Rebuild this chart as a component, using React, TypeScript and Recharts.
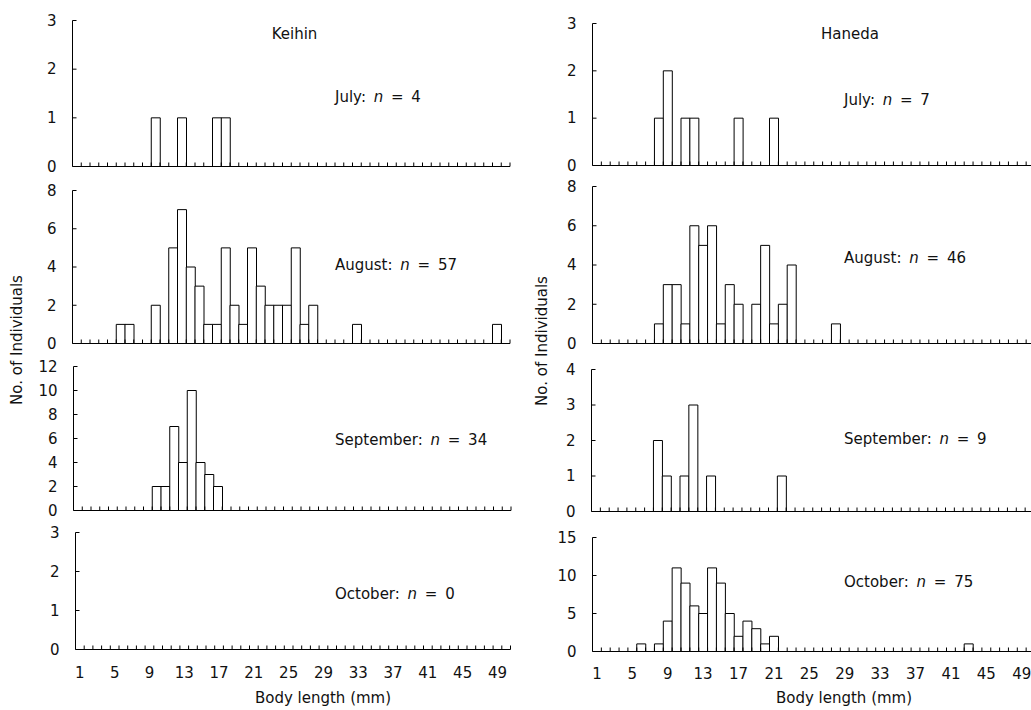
import React from 'react';
import { BarChart, Bar, XAxis, YAxis } from 'recharts';

// ---------- data ----------
const LENGTHS = [
  1, 2, 3, 4, 5, 6, 7, 8, 9, 10, 11, 12, 13, 14, 15, 16, 17, 18, 19, 20, 21, 22, 23, 24, 25,
  26, 27, 28, 29, 30, 31, 32, 33, 34, 35, 36, 37, 38, 39, 40, 41, 42, 43, 44, 45, 46, 47, 48, 49, 50,
];
const LABEL_TICKS = [1, 5, 9, 13, 17, 21, 25, 29, 33, 37, 41, 45, 49];

// [body length (mm), number of individuals]
const KEIHIN_JUL = [[10, 1], [13, 1], [17, 1], [18, 1]];
const KEIHIN_AUG = [
  [6, 1], [7, 1], [10, 2], [12, 5], [13, 7], [14, 4], [15, 3], [16, 1], [17, 1], [18, 5], [19, 2],
  [20, 1], [21, 5], [22, 3], [23, 2], [24, 2], [25, 2], [26, 5], [27, 1], [28, 2], [33, 1], [49, 1],
];
const KEIHIN_SEP = [[10, 2], [11, 2], [12, 7], [13, 4], [14, 10], [15, 4], [16, 3], [17, 2]];
const KEIHIN_OCT: number[][] = [];

const HANEDA_JUL = [[8, 1], [9, 2], [11, 1], [12, 1], [17, 1], [21, 1]];
const HANEDA_AUG = [
  [8, 1], [9, 3], [10, 3], [11, 1], [12, 6], [13, 5], [14, 6], [15, 1], [16, 3], [17, 2],
  [19, 2], [20, 5], [21, 1], [22, 2], [23, 4], [28, 1],
];
const HANEDA_SEP = [[8, 2], [9, 1], [11, 1], [12, 3], [14, 1], [22, 1]];
const HANEDA_OCT = [
  [6, 1], [8, 1], [9, 4], [10, 11], [11, 9], [12, 6], [13, 5], [14, 11], [15, 9], [16, 5],
  [17, 2], [18, 4], [19, 3], [20, 1], [21, 2], [43, 1],
];

const Y_TICKS_3 = [0, 1, 2, 3];
const Y_TICKS_8 = [0, 2, 4, 6, 8];
const Y_TICKS_12 = [0, 2, 4, 6, 8, 10, 12];
const Y_TICKS_4 = [0, 1, 2, 3, 4];
const Y_TICKS_15 = [0, 5, 10, 15];

const MONTHS = ['July', 'August', 'September', 'October'];
const KEIHIN_N = [4, 57, 34, 0];
const HANEDA_N = [7, 46, 9, 75];

// ---------- layout ----------
const FONT = '"DejaVu Sans", Verdana, sans-serif';
const FS = 15;
const PAD = 12;
const RIGHT = 12;
const BOTTOM_PAD = 12;
const TICK_LEN = 4;
const Y_LABEL_GAP = 16;

type PanelProps = {
  counts: number[][];
  yTicks: number[];
  colX: number;
  plotLeft: number;
  plotWidth: number;
  plotTop: number;
  plotBottom: number;
  showLabels: boolean;
  labelMargin: number;
};

function Panel(p: PanelProps) {
  const lookup = new Map<number, number>(p.counts.map((c) => [c[0], c[1]] as [number, number]));
  const data = LENGTHS.map((len) => ({ len, count: lookup.get(len) ?? 0 }));
  const yMax = p.yTicks[p.yTicks.length - 1];
  const divTop = Math.floor(p.plotTop) - PAD;
  const marginTop = p.plotTop - divTop;
  const plotH = p.plotBottom - p.plotTop;
  const xh = p.showLabels ? 34 : 2;
  const bottomPad = p.showLabels ? 0 : BOTTOM_PAD;
  const yw = p.plotLeft - p.colX;
  const W = yw + p.plotWidth + RIGHT;
  const H = marginTop + plotH + xh + bottomPad;
  const band = p.plotWidth / LENGTHS.length;
  const axisY = marginTop + plotH;

  const renderXTick = (props: any) => {
    const { x, payload } = props;
    const edgeX = x + band / 2;
    const showText = p.showLabels && LABEL_TICKS.indexOf(payload.value) >= 0;
    return (
      <g>
        <line x1={edgeX} x2={edgeX} y1={axisY} y2={axisY - TICK_LEN} stroke="#000" strokeWidth={1} />
        {showText && (
          <text
            x={x}
            y={axisY + p.labelMargin}
            dy="0.71em"
            textAnchor="middle"
            fontSize={FS}
            fontFamily={FONT}
            fill="#111"
          >
            {payload.value}
          </text>
        )}
      </g>
    );
  };

  const renderYTick = (props: any) => {
    const { y, payload } = props;
    return (
      <g>
        <text
          x={yw - Y_LABEL_GAP}
          y={y}
          dy="0.355em"
          textAnchor="end"
          fontSize={FS}
          fontFamily={FONT}
          fill="#111"
        >
          {payload.value}
        </text>
        <line x1={yw} x2={yw + TICK_LEN} y1={y} y2={y} stroke="#000" strokeWidth={1} />
      </g>
    );
  };

  return (
    <div style={{ position: 'absolute', left: p.colX, top: divTop }}>
      <BarChart
        width={W}
        height={H}
        data={data}
        margin={{ top: marginTop, right: RIGHT, bottom: bottomPad, left: 0 }}
        barCategoryGap={0}
        barGap={0}
      >
        <XAxis
          dataKey="len"
          type="category"
          interval={0}
          height={xh}
          axisLine={{ stroke: '#000', strokeWidth: 1 }}
          tickLine={false}
          tickSize={0}
          tickMargin={0}
          tick={renderXTick}
        />
        <YAxis
          type="number"
          domain={[0, yMax]}
          ticks={p.yTicks}
          interval={0}
          width={yw}
          axisLine={{ stroke: '#000', strokeWidth: 1 }}
          tickLine={false}
          tickSize={0}
          tickMargin={Y_LABEL_GAP}
          tick={renderYTick}
        />
        <Bar dataKey="count" fill="#ffffff" stroke="#000" strokeWidth={1} isAnimationActive={false} />
      </BarChart>
    </div>
  );
}

const LEFT_ROWS = [
  { counts: KEIHIN_JUL, yTicks: Y_TICKS_3, plotLeft: 72.5, plotWidth: 437.5, plotTop: 20.5, plotBottom: 166.5, labelY: 97 },
  { counts: KEIHIN_AUG, yTicks: Y_TICKS_8, plotLeft: 72.5, plotWidth: 437.5, plotTop: 190.5, plotBottom: 343.5, labelY: 265 },
  { counts: KEIHIN_SEP, yTicks: Y_TICKS_12, plotLeft: 73.5, plotWidth: 437.5, plotTop: 366.5, plotBottom: 510.5, labelY: 440 },
  { counts: KEIHIN_OCT, yTicks: Y_TICKS_3, plotLeft: 75.5, plotWidth: 435, plotTop: 532.5, plotBottom: 649.5, labelY: 594 },
];
const RIGHT_ROWS = [
  { counts: HANEDA_JUL, yTicks: Y_TICKS_3, plotLeft: 592.5, plotWidth: 442.5, plotTop: 23.5, plotBottom: 165.5, labelY: 100 },
  { counts: HANEDA_AUG, yTicks: Y_TICKS_8, plotLeft: 592.5, plotWidth: 442.5, plotTop: 186.5, plotBottom: 343.5, labelY: 258 },
  { counts: HANEDA_SEP, yTicks: Y_TICKS_4, plotLeft: 591.5, plotWidth: 442.5, plotTop: 369.5, plotBottom: 511.5, labelY: 439 },
  { counts: HANEDA_OCT, yTicks: Y_TICKS_15, plotLeft: 592.5, plotWidth: 442.5, plotTop: 537.5, plotBottom: 651.5, labelY: 582 },
];

const textBase: React.CSSProperties = {
  position: 'absolute',
  fontFamily: FONT,
  fontSize: FS,
  color: '#111',
  whiteSpace: 'nowrap',
  lineHeight: 1,
};

function MonthLabel({ x, y, month, n }: { x: number; y: number; month: string; n: number }) {
  return (
    <div style={{ ...textBase, left: x, top: y, transform: 'translateY(-50%)' }}>
      {month}:{'\u00A0\u2009'}
      <i>n</i>
      {`\u00A0\u2009=\u00A0\u2009${n}`}
    </div>
  );
}

export default function App() {
  return (
    <div
      style={{
        position: 'absolute',
        left: 0,
        top: 0,
        width: 1031,
        height: 710,
        overflow: 'hidden',
        background: '#fff',
      }}
    >
      {LEFT_ROWS.map((r, i) => (
        <Panel key={'k' + i} {...r} colX={0} showLabels={i === 3} labelMargin={18} />
      ))}
      {RIGHT_ROWS.map((r, i) => (
        <Panel key={'h' + i} {...r} colX={520} showLabels={i === 3} labelMargin={17} />
      ))}

      {LEFT_ROWS.map((r, i) => (
        <MonthLabel key={'kl' + i} x={335} y={r.labelY} month={MONTHS[i]} n={KEIHIN_N[i]} />
      ))}
      {RIGHT_ROWS.map((r, i) => (
        <MonthLabel key={'hl' + i} x={844} y={r.labelY} month={MONTHS[i]} n={HANEDA_N[i]} />
      ))}

      <div style={{ ...textBase, left: 294.5, top: 33.5, transform: 'translate(-50%, -50%)' }}>Keihin</div>
      <div style={{ ...textBase, left: 850, top: 33.5, transform: 'translate(-50%, -50%)' }}>Haneda</div>

      <div style={{ ...textBase, left: 323, top: 698, transform: 'translate(-50%, -50%)' }}>Body length (mm)</div>
      <div style={{ ...textBase, left: 844, top: 698, transform: 'translate(-50%, -50%)' }}>Body length (mm)</div>

      <div style={{ ...textBase, left: 17, top: 340, transform: 'translate(-50%, -50%) rotate(-90deg)' }}>
        No. of Individuals
      </div>
      <div style={{ ...textBase, left: 542, top: 341, transform: 'translate(-50%, -50%) rotate(-90deg)' }}>
        No. of Individuals
      </div>
    </div>
  );
}
